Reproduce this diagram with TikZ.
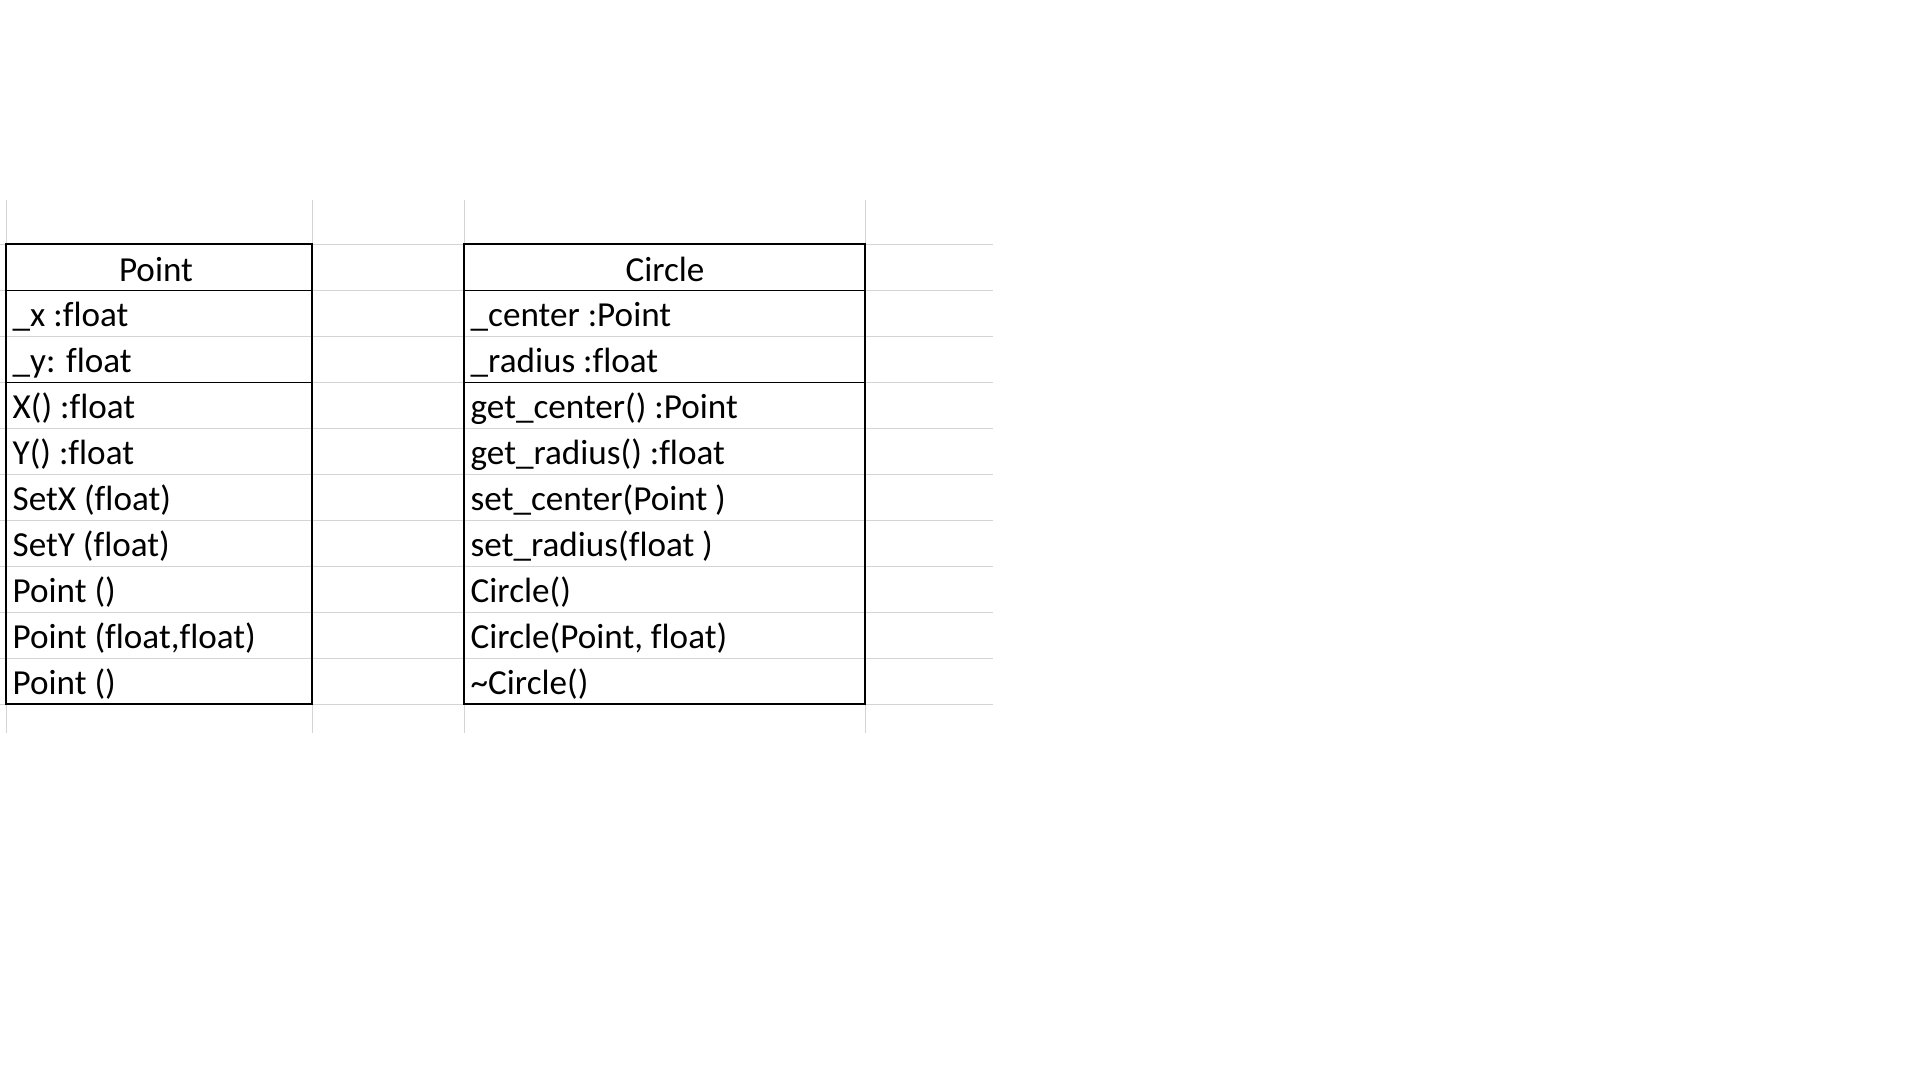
\documentclass[tikz,border=0pt]{standalone}
\usepackage{fontspec}
\setmainfont[Ligatures=NoCommon]{Carlito}
\usepackage{tikz}
\usetikzlibrary{positioning}

\definecolor{gridgray}{HTML}{D4D4D4}
\newcommand{\cellfont}{\fontsize{10}{12}\selectfont}

\begin{document}
\begin{tikzpicture}[x=0.1mm, y=-0.1mm,
    gridline/.style={draw=gridgray, line width=0.1mm},
    boxline/.style={draw=black, line width=0.2mm},
    sepline/.style={draw=black, line width=0.1mm},
    member/.style={anchor=base west, inner sep=0pt, font=\cellfont},
    classname/.style={anchor=base, inner sep=0pt, font=\cellfont}]
    \useasboundingbox (0,0) rectangle (1920,1080);

    % sheet grid
    \foreach \y in {244,290,...,704}
        \draw[gridline] (0,\y) -- (993,\y);
    \foreach \x in {6,312,464,865}
        \draw[gridline] (\x,200) -- (\x,733);

    % class Point
    \node[classname] (point-0) at (156,281) {Point};
    \foreach \t [count=\i] in {{\_x :float}, {\_y: float}, {X() :float}, {Y() :float},
        {SetX (float)}, {SetY (float)}, {Point ()}, {Point (float,float)}, {Point ()}}
        \node[member] (point-\i) at (12,{280+46*\i}) {\t};
    \draw[sepline] (6,290) -- (312,290);
    \draw[sepline] (6,382) -- (312,382);
    \draw[boxline] (6,244) rectangle (312,704);

    % class Circle
    \node[classname] (circle-0) at (665,281) {Circle};
    \foreach \t [count=\i] in {{\_center :Point}, {\_radius :float}, {get\_center() :Point},
        {get\_radius() :float}, {set\_center(Point )}, {set\_radius(float )},
        {Circle()}, {Circle(Point, float)}, {\textasciitilde Circle()}}
        \node[member] (circle-\i) at (470,{280+46*\i}) {\t};
    \draw[sepline] (464,290) -- (865,290);
    \draw[sepline] (464,382) -- (865,382);
    \draw[boxline] (464,244) rectangle (865,704);
\end{tikzpicture}
\end{document}
